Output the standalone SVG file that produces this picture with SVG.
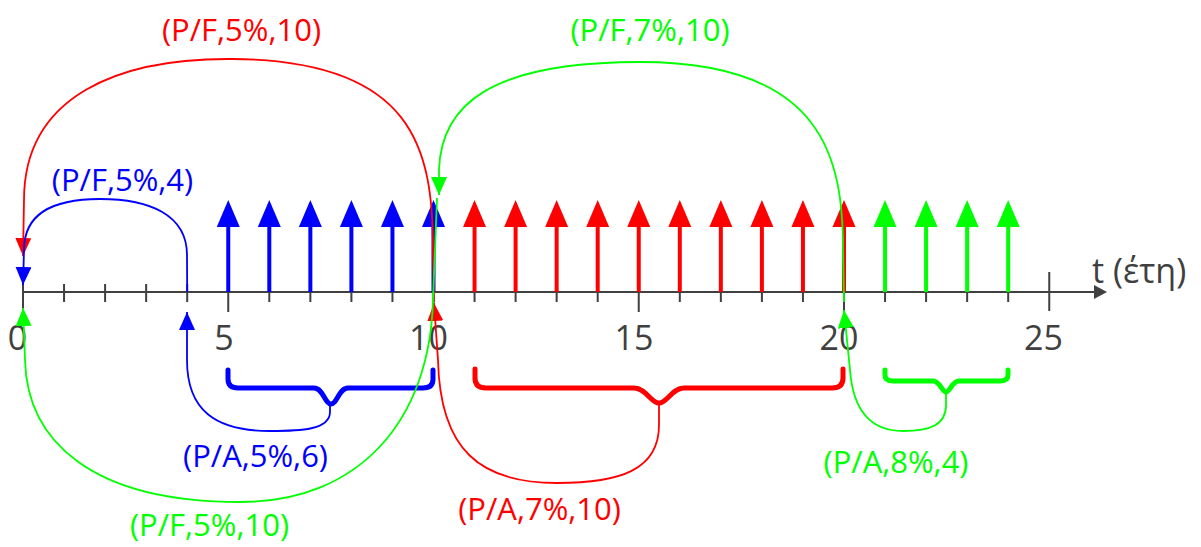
<svg xmlns="http://www.w3.org/2000/svg" width="1201" height="547" viewBox="0 0 1201 547">
<style>
.ax{stroke:#404040;stroke-width:2;fill:none}
.num{font-family:"Open Sans","Noto Sans",sans-serif;font-size:34px;fill:#404040;text-anchor:middle}
.lbl{font-family:"Open Sans","Noto Sans",sans-serif;font-size:31px;text-anchor:middle}
.cf{stroke-width:4;fill:none}
.cv{stroke-width:1.8;fill:none}
.br{stroke-width:5;fill:none;stroke-linecap:round;stroke-linejoin:round}
.R{stroke:#FF0000}.G{stroke:#00FF00}.B{stroke:#0000FF}
.fR{fill:#FF0000}.fG{fill:#00FF00}.fB{fill:#0000FF}
</style>
<defs>
<marker id="bhB" markerUnits="userSpaceOnUse" markerWidth="27" markerHeight="24" refX="0" refY="12" orient="auto" viewBox="0 0 27 24"><path d="M0,0.5 L27,12 L0,23.5 z" fill="#0000FF"/></marker>
<marker id="bhR" markerUnits="userSpaceOnUse" markerWidth="27" markerHeight="24" refX="0" refY="12" orient="auto" viewBox="0 0 27 24"><path d="M0,0.5 L27,12 L0,23.5 z" fill="#FF0000"/></marker>
<marker id="bhG" markerUnits="userSpaceOnUse" markerWidth="27" markerHeight="24" refX="0" refY="12" orient="auto" viewBox="0 0 27 24"><path d="M0,0.5 L27,12 L0,23.5 z" fill="#00FF00"/></marker>
<marker id="thB" markerUnits="userSpaceOnUse" markerWidth="18" markerHeight="16" refX="18" refY="8" orient="auto" viewBox="0 0 18 16"><path d="M0,0 L18,8 L0,16 z" fill="#0000FF"/></marker>
<marker id="thR" markerUnits="userSpaceOnUse" markerWidth="18" markerHeight="16" refX="18" refY="8" orient="auto" viewBox="0 0 18 16"><path d="M0,0 L18,8 L0,16 z" fill="#FF0000"/></marker>
<marker id="thG" markerUnits="userSpaceOnUse" markerWidth="18" markerHeight="16" refX="18" refY="8" orient="auto" viewBox="0 0 18 16"><path d="M0,0 L18,8 L0,16 z" fill="#00FF00"/></marker>
</defs>
<rect width="1201" height="547" fill="#FFFFFF"/>
<g id="axis">
<line class="ax" x1="22" y1="292" x2="1096" y2="292" stroke-width="2.5"/>
<polygon points="1094,285 1107,292 1094,299" fill="#404040"/>
<path class="ax" d="M23 272V312 M64.05 284V302 M105.1 284V302 M146.15 284V302 M187.2 284V302 M228.25 272V312 M269.3 284V302 M310.35 284V302 M351.4 284V302 M392.45 284V302 M433.5 272V312 M474.55 284V302 M515.6 284V302 M556.65 284V302 M597.7 284V302 M638.75 272V312 M679.8 284V302 M720.85 284V302 M761.9 284V302 M802.95 284V302 M844 272V312 M885.05 284V302 M926.1 284V302 M967.15 284V302 M1008.2 284V302 M1049.25 272V311"/>
<text class="num" x="17.5" y="350">0</text>
<text class="num" x="224" y="350">5</text>
<text class="num" x="428.5" y="350">10</text>
<text class="num" x="634" y="350">15</text>
<text class="num" x="839" y="350">20</text>
<text class="num" x="1043.5" y="350">25</text>
<text class="num" x="1092" y="283" style="text-anchor:start">t (έτη)</text>
</g>
<g id="cashflows">
<g class="cf B" marker-end="url(#bhB)">
<line x1="228.25" y1="292" x2="228.25" y2="227"/>
<line x1="269.3" y1="292" x2="269.3" y2="227"/>
<line x1="310.35" y1="292" x2="310.35" y2="227"/>
<line x1="351.4" y1="292" x2="351.4" y2="227"/>
<line x1="392.45" y1="292" x2="392.45" y2="227"/>
<line x1="433.5" y1="292" x2="433.5" y2="227"/>
</g>
<g class="cf R" marker-end="url(#bhR)">
<line x1="474.55" y1="292" x2="474.55" y2="227"/>
<line x1="515.6" y1="292" x2="515.6" y2="227"/>
<line x1="556.65" y1="292" x2="556.65" y2="227"/>
<line x1="597.7" y1="292" x2="597.7" y2="227"/>
<line x1="638.75" y1="292" x2="638.75" y2="227"/>
<line x1="679.8" y1="292" x2="679.8" y2="227"/>
<line x1="720.85" y1="292" x2="720.85" y2="227"/>
<line x1="761.9" y1="292" x2="761.9" y2="227"/>
<line x1="802.95" y1="292" x2="802.95" y2="227"/>
<line x1="844" y1="292" x2="844" y2="227"/>
</g>
<g class="cf G" marker-end="url(#bhG)">
<line x1="885.05" y1="292" x2="885.05" y2="227"/>
<line x1="926.1" y1="292" x2="926.1" y2="227"/>
<line x1="967.15" y1="292" x2="967.15" y2="227"/>
<line x1="1008.2" y1="292" x2="1008.2" y2="227"/>
</g>
</g>
<g id="brace-blue"><path class="br B" d="M228 370 L228 379 Q228 388 238 388 L314 388 C323 388 325 404 331 404 C337 404 339 388 348 388 L423 388 Q433 388 433 379 L433 370"/></g>
<g id="brace-red"><path class="br R" d="M475 369 L475 378 Q475 388 486 388 L634 388 C646 388 651 403 659 403 C667 403 672 388 684 388 L832 388 Q843 388 843 378 L843 369"/></g>
<g id="brace-green"><path class="br G" d="M885 370 L885 375 Q885 381 893 381 L933 381 C940 381 942 392 946 392 C950 392 952 381 959 381 L1000 381 Q1008 381 1008 375 L1008 370"/></g>
<g id="connectors">
<path class="cv R" marker-end="url(#thR)" d="M434 302 L433 250 C433 150 415 60 232 59 C120 58 24 95 24 200 L23 256"/>
<path class="cv G" marker-end="url(#thG)" d="M844 302 L843 250 C843 160 825 62 640 62 C490 62 441 105 439 170 L439 195"/>
<path class="cv B" marker-end="url(#thB)" d="M187.2 292 L187 255 C187 215 150 199 100 199 C50 199 24 215 24 250 L23 285"/>
<path class="cv B" marker-end="url(#thB)" d="M330 405 L330 412 C330 430 300 431 270 431 C215 431 187 410 187 360 L187 312"/>
<path class="cv R" marker-end="url(#thR)" d="M659 404 L659 425 C659 470 620 483 557 483 C480 483 440 450 438 360 L434 303"/>
<path class="cv G" marker-end="url(#thG)" d="M437 198 L433 300 C430 420 360 502 240 502 C90 502 27 440 25 360 L23 308"/>
<path class="cv G" marker-end="url(#thG)" d="M946 392 L946 405 C946 425 930 431 903 431 C870 431 853 410 850 370 L844 310"/>
</g>
<g id="label-pf-5-10-red"><text class="lbl fR" x="241.5" y="41">(P/F,5%,10)</text></g>
<g id="label-pf-7-10-green"><text class="lbl fG" x="650" y="41">(P/F,7%,10)</text></g>
<g id="label-pf-5-4-blue"><text class="lbl fB" x="122.5" y="191">(P/F,5%,4)</text></g>
<g id="label-pa-5-6-blue"><text class="lbl fB" x="255.5" y="467">(P/A,5%,6)</text></g>
<g id="label-pa-7-10-red"><text class="lbl fR" x="539.5" y="520">(P/A,7%,10)</text></g>
<g id="label-pa-8-4-green"><text class="lbl fG" x="896" y="473">(P/A,8%,4)</text></g>
<g id="label-pf-5-10-green"><text class="lbl fG" x="209.5" y="536">(P/F,5%,10)</text></g>
</svg>
